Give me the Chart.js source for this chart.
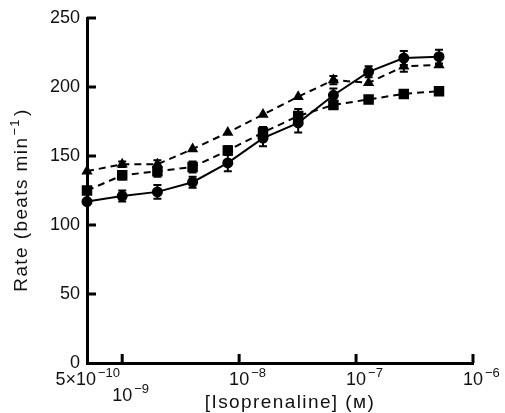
<!DOCTYPE html>
<html>
<head>
<meta charset="utf-8">
<script src="https://cdn.jsdelivr.net/npm/chart.js@4"></script>
<style>
  html, body { margin: 0; padding: 0; background: #fff; }
  canvas { display: block; }
</style>
</head>
<body>
<canvas id="chart" width="505" height="413"></canvas>
<script>
// Isoprenaline concentrations (M), doubling steps
const concentrations = [5e-10, 1e-9, 2e-9, 4e-9, 8e-9, 1.6e-8, 3.2e-8, 6.4e-8, 1.28e-7, 2.56e-7, 5.12e-7];

// Rate (beats/min)
const circleRates = [117, 121, 124, 131, 145, 163, 174, 194, 211, 221, 222];
const circleErrors = [0, 4, 5, 4, 6, 6, 7, 5, 4, 5, 5];

const squareRates = [125, 136, 139, 142, 154, 167, 179, 187, 191, 195, 197];
const squareErrors = [0, 3, 4, 4, 3, 4, 5, 3, 0, 0, 0];

const triangleRates = [139, 144, 144, 155, 167, 180, 193, 205, 203, 215, 216];
const triangleErrors = [0, 2, 3, 0, 0, 0, 0, 3, 0, 4, 0];

// Axis ticks: base text and exponent for each x tick, second row for 10^-9
const xTicks = [5e-10, 1e-9, 1e-8, 1e-7, 1e-6];
const xTickBases = ['5\u00d710', '10', '10', '10', '10'];
const xTickExps = ['\u221210', '\u22129', '\u22128', '\u22127', '\u22126'];
const xTickRows = [0, 1, 0, 0, 0];
const xTickMarks = [1e-9, 1e-8, 1e-7, 1e-6];
const yTicks = [0, 50, 100, 150, 200, 250];

const FONT = "'Liberation Sans', Arial, sans-serif";

function points(values) {
  return values.map((v, i) => ({ x: concentrations[i], y: v }));
}

// Error bars drawn through the chart scales, under the markers
const errorBars = {
  id: 'errorBars',
  beforeDatasetsDraw(chart) {
    const { ctx, scales: { x, y } } = chart;
    ctx.save();
    ctx.strokeStyle = '#000';
    ctx.lineWidth = 2;
    chart.data.datasets.forEach(ds => {
      if (!ds.errors) return;
      ds.data.forEach((p, i) => {
        const e = ds.errors[i];
        if (!e) return;
        const px = x.getPixelForValue(p.x);
        const top = y.getPixelForValue(p.y + e);
        const bot = y.getPixelForValue(p.y - e);
        ctx.beginPath();
        ctx.moveTo(px, top); ctx.lineTo(px, bot);
        ctx.moveTo(px - 4, top); ctx.lineTo(px + 4, top);
        ctx.moveTo(px - 4, bot); ctx.lineTo(px + 4, bot);
        ctx.stroke();
      });
    });
    ctx.restore();
  }
};

// Inward tick marks like the original figure
const innerTicks = {
  id: 'innerTicks',
  afterDraw(chart) {
    const { ctx, scales: { x, y } } = chart;
    ctx.save();
    ctx.strokeStyle = '#000';
    ctx.lineWidth = 3;
    ctx.beginPath();
    yTicks.slice(1).forEach(v => {
      const py = y.getPixelForValue(v);
      ctx.moveTo(x.left, py);
      ctx.lineTo(x.left + 9, py);
    });
    xTickMarks.forEach(v => {
      const px = x.getPixelForValue(v);
      ctx.moveTo(px, y.bottom);
      ctx.lineTo(px, y.bottom - 9);
    });
    ctx.stroke();
    ctx.restore();
  }
};

// Text with a raised exponent
function baseWidth(ctx, base, size) {
  ctx.font = size + 'px ' + FONT;
  return ctx.measureText(base).width;
}

function drawSup(ctx, base, exp, left, baseline, size) {
  const wb = baseWidth(ctx, base, size);
  ctx.font = size + 'px ' + FONT;
  ctx.fillText(base, left, baseline);
  ctx.font = Math.round(size * 0.72) + 'px ' + FONT;
  ctx.fillText(exp, left + wb + 2, baseline - size * 0.45);
}

// Axis labels and titles with proper superscripts
const axisText = {
  id: 'axisText',
  afterDraw(chart) {
    const { ctx, scales: { x } } = chart;
    ctx.save();
    ctx.fillStyle = '#111';
    ctx.textAlign = 'left';
    ctx.textBaseline = 'alphabetic';
    const size = 18;
    xTicks.forEach((v, i) => {
      const px = x.getPixelForValue(v);
      const wb = baseWidth(ctx, xTickBases[i], size);
      let left = px - wb / 2;
      if (i === 0) left = px - wb + 9;
      const baseline = xTickRows[i] ? 401 : 385;
      drawSup(ctx, xTickBases[i], xTickExps[i], left, baseline, size);
    });

    // x title
    ctx.font = '19px ' + FONT;
    ctx.letterSpacing = '1.4px';
    ctx.textAlign = 'center';
    ctx.fillText('[Isoprenaline] (\u1d0d)', 290, 408);

    // y title, rotated
    ctx.translate(27, 200);
    ctx.rotate(-Math.PI / 2);
    ctx.textAlign = 'left';
    const base = 'Rate (beats min';
    ctx.font = '19px ' + FONT;
    const wb = ctx.measureText(base).width;
    ctx.font = '13px ' + FONT;
    const we = ctx.measureText('\u22121').width;
    ctx.font = '19px ' + FONT;
    const wc = ctx.measureText(')').width;
    const start = -(wb + we + 3 + wc) / 2;
    ctx.fillText(base, start, 0);
    ctx.font = '13px ' + FONT;
    ctx.fillText('\u22121', start + wb + 1, -8);
    ctx.font = '19px ' + FONT;
    ctx.fillText(')', start + wb + we + 3, 0);
    ctx.restore();
  }
};

const ctx = document.getElementById('chart');

new Chart(ctx, {
  type: 'line',
  data: {
    datasets: [
      {
        label: 'circles',
        data: points(circleRates),
        errors: circleErrors,
        borderColor: '#000',
        backgroundColor: '#000',
        borderWidth: 2,
        pointStyle: 'circle',
        pointRadius: 4.5,
        clip: false
      },
      {
        label: 'squares',
        data: points(squareRates),
        errors: squareErrors,
        borderColor: '#000',
        backgroundColor: '#000',
        borderWidth: 2,
        borderDash: [7, 5],
        pointStyle: 'rect',
        pointRadius: 6,
        clip: false
      },
      {
        label: 'triangles',
        data: points(triangleRates),
        errors: triangleErrors,
        borderColor: '#000',
        backgroundColor: '#000',
        borderWidth: 2,
        borderDash: [7, 5],
        pointStyle: 'triangle',
        pointRadius: 4.5,
        clip: false
      }
    ]
  },
  options: {
    responsive: false,
    animation: false,
    devicePixelRatio: 1,
    layout: { padding: { top: 18, right: 32, left: 0, bottom: 0 } },
    plugins: {
      legend: { display: false },
      tooltip: { enabled: false }
    },
    scales: {
      x: {
        type: 'logarithmic',
        min: 5e-10,
        max: 1e-6,
        afterBuildTicks: scale => {
          scale.ticks = xTicks.map(v => ({ value: v }));
        },
        afterFit: scale => { scale.height = 50; },
        grid: { display: false, drawTicks: false },
        border: { display: true, color: '#000', width: 3 },
        ticks: { display: false }
      },
      y: {
        min: 0,
        max: 250,
        afterBuildTicks: scale => {
          scale.ticks = yTicks.map(v => ({ value: v }));
        },
        afterFit: scale => { scale.width = 87; },
        grid: { display: false, drawTicks: false },
        border: { display: true, color: '#000', width: 3 },
        ticks: {
          padding: 7,
          color: '#111',
          font: { family: FONT, size: 18 }
        }
      }
    }
  },
  plugins: [errorBars, innerTicks, axisText]
});
</script>
</body>
</html>
